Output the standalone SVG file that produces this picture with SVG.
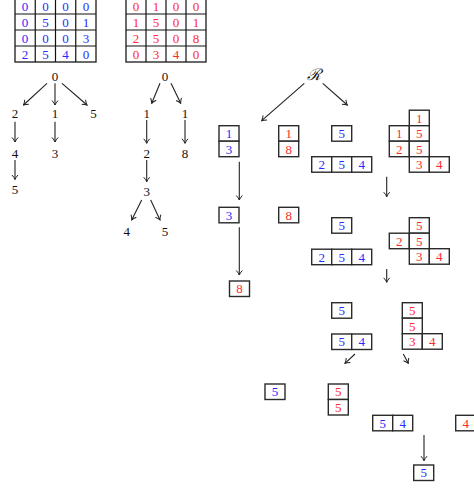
<svg xmlns="http://www.w3.org/2000/svg" width="474" height="489" viewBox="0 0 474 489">
<defs>
<marker id="ah" viewBox="-5 -4 6 8" markerWidth="6" markerHeight="8" refX="0" refY="0" orient="auto" markerUnits="userSpaceOnUse">
<path d="M-4.5,-3 Q-2,-0.8 0,0 Q-2,0.8 -4.5,3" fill="none" stroke="#222" stroke-width="1"/>
</marker>
<style>
text{font-family:"Liberation Serif","Times New Roman",serif;font-size:13px;text-anchor:middle}
.b{fill:#2a2aff}
.r{fill:#ff2a2a}
.k{fill:#111}
.c{fill:#fff;stroke:#2a2a2a;stroke-width:1.4}
.e{stroke:#222;stroke-width:1.1;fill:none;marker-end:url(#ah)}
.g{stroke:#111;stroke-width:1.2;fill:none}
</style>
</defs>
<rect width="474" height="489" fill="#fff"/>

<g id="matrix1">
<rect x="15" y="-2" width="81" height="64" class="c"/>
<path class="g" d="M35.25,-2V62M55.5,-2V62M75.75,-2V62M15,14H96M15,30H96M15,46H96"/>
<text x="25" y="10.5" class="b">0</text><text x="45.4" y="10.5" class="b">0</text><text x="65.6" y="10.5" class="b">0</text><text x="85.9" y="10.5" class="b">0</text>
<text x="25" y="26.5" class="b">0</text><text x="45.4" y="26.5" class="b">5</text><text x="65.6" y="26.5" class="b">0</text><text x="85.9" y="26.5" class="b">1</text>
<text x="25" y="42.5" class="b">0</text><text x="45.4" y="42.5" class="b">0</text><text x="65.6" y="42.5" class="b">0</text><text x="85.9" y="42.5" class="b">3</text>
<text x="25" y="58.5" class="b">2</text><text x="45.4" y="58.5" class="b">5</text><text x="65.6" y="58.5" class="b">4</text><text x="85.9" y="58.5" class="b">0</text>
</g>

<g id="matrix2">
<rect x="126" y="-2" width="80" height="64" class="c"/>
<path class="g" d="M146,-2V62M166,-2V62M186,-2V62M126,14H206M126,30H206M126,46H206"/>
<text x="136" y="10.5" class="r">0</text><text x="156" y="10.5" class="r">1</text><text x="176" y="10.5" class="r">0</text><text x="196" y="10.5" class="r">0</text>
<text x="136" y="26.5" class="r">1</text><text x="156" y="26.5" class="r">5</text><text x="176" y="26.5" class="r">0</text><text x="196" y="26.5" class="r">1</text>
<text x="136" y="42.5" class="r">2</text><text x="156" y="42.5" class="r">5</text><text x="176" y="42.5" class="r">0</text><text x="196" y="42.5" class="r">8</text>
<text x="136" y="58.5" class="r">0</text><text x="156" y="58.5" class="r">3</text><text x="176" y="58.5" class="r">4</text><text x="196" y="58.5" class="r">0</text>
</g>

<g id="tree1">
<text x="55" y="80.5" class="k">0</text>
<text x="15" y="117.5" class="k">2</text>
<text x="55" y="117.5" class="k">1</text>
<text x="93.5" y="117.5" class="k">5</text>
<text x="15" y="157.5" class="k">4</text>
<text x="55" y="157.5" class="k">3</text>
<text x="15" y="194" class="k">5</text>
</g>

<g id="tree2">
<text x="165" y="80.5" class="k">0</text>
<text x="146.7" y="117.5" class="k">1</text>
<text x="185" y="117.5" class="k">1</text>
<text x="146.7" y="157.5" class="k">2</text>
<text x="185" y="157.5" class="k">8</text>
<text x="146.7" y="196" class="k">3</text>
<text x="126.7" y="236" class="k">4</text>
<text x="165" y="236" class="k">5</text>
</g>

<g id="root"><text x="313.5" y="79.5" class="k" style="font-family:'DejaVu Serif',serif;font-style:italic;font-size:16px">ℛ</text></g>

<g id="box13"><rect x="219" y="125.7" width="20" height="15.5" class="c"/><rect x="219" y="141.2" width="20" height="15.5" class="c"/><text x="229" y="138" class="b">1</text><text x="229" y="153.5" class="b">3</text></g>
<g id="box18"><rect x="278.7" y="125.7" width="20" height="15.5" class="c"/><rect x="278.7" y="141.2" width="20" height="15.5" class="c"/><text x="288.7" y="138" class="r">1</text><text x="288.7" y="153.5" class="r">8</text></g>
<g id="box5a"><rect x="331.7" y="125.7" width="20" height="15.5" class="c"/><text x="341.7" y="138" class="b">5</text></g>
<g id="row254a"><rect x="311.7" y="156.7" width="20" height="15.5" class="c"/><rect x="331.7" y="156.7" width="20" height="15.5" class="c"/><rect x="351.7" y="156.7" width="20" height="15.5" class="c"/><text x="321.7" y="169" class="b">2</text><text x="341.7" y="169" class="b">5</text><text x="361.7" y="169" class="b">4</text></g>
<g id="shape1">
<rect x="409.3" y="110.2" width="20" height="15.5" class="c"/>
<rect x="389.3" y="125.7" width="20" height="15.5" class="c"/><rect x="409.3" y="125.7" width="20" height="15.5" class="c"/>
<rect x="389.3" y="141.2" width="20" height="15.5" class="c"/><rect x="409.3" y="141.2" width="20" height="15.5" class="c"/>
<rect x="409.3" y="156.7" width="20" height="15.5" class="c"/><rect x="429.3" y="156.7" width="20" height="15.5" class="c"/>
<text x="419.3" y="122.5" class="r">1</text>
<text x="399.3" y="138" class="r">1</text><text x="419.3" y="138" class="r">5</text>
<text x="399.3" y="153.5" class="r">2</text><text x="419.3" y="153.5" class="r">5</text>
<text x="419.3" y="169" class="r">3</text><text x="439.3" y="169" class="r">4</text>
</g>

<g id="box3"><rect x="219" y="207.3" width="20" height="15.5" class="c"/><text x="229" y="219.6" class="b">3</text></g>
<g id="box8a"><rect x="278.7" y="207.3" width="20" height="15.5" class="c"/><text x="288.7" y="219.6" class="r">8</text></g>
<g id="box8b"><rect x="229.5" y="281" width="20" height="15.5" class="c"/><text x="239.5" y="293.3" class="r">8</text></g>

<g id="box5b"><rect x="331.7" y="217.7" width="20" height="15.5" class="c"/><text x="341.7" y="230" class="b">5</text></g>
<g id="row254b"><rect x="311.7" y="249.2" width="20" height="15.5" class="c"/><rect x="331.7" y="249.2" width="20" height="15.5" class="c"/><rect x="351.7" y="249.2" width="20" height="15.5" class="c"/><text x="321.7" y="261.5" class="b">2</text><text x="341.7" y="261.5" class="b">5</text><text x="361.7" y="261.5" class="b">4</text></g>
<g id="shape2">
<rect x="409.3" y="217.7" width="20" height="15.5" class="c"/>
<rect x="389.3" y="233.2" width="20" height="15.5" class="c"/><rect x="409.3" y="233.2" width="20" height="15.5" class="c"/>
<rect x="409.3" y="248.7" width="20" height="15.5" class="c"/><rect x="429.3" y="248.7" width="20" height="15.5" class="c"/>
<text x="419.3" y="230" class="r">5</text>
<text x="399.3" y="245.5" class="r">2</text><text x="419.3" y="245.5" class="r">5</text>
<text x="419.3" y="261" class="r">3</text><text x="439.3" y="261" class="r">4</text>
</g>

<g id="box5c"><rect x="331.7" y="302.7" width="20" height="15.5" class="c"/><text x="341.7" y="315" class="b">5</text></g>
<g id="row54a"><rect x="331.7" y="334" width="20" height="15.5" class="c"/><rect x="351.7" y="334" width="20" height="15.5" class="c"/><text x="341.7" y="346.3" class="b">5</text><text x="361.7" y="346.3" class="b">4</text></g>
<g id="shape3">
<rect x="402.3" y="302.7" width="20" height="15.5" class="c"/>
<rect x="402.3" y="318.2" width="20" height="15.5" class="c"/>
<rect x="402.3" y="333.7" width="20" height="15.5" class="c"/><rect x="422.3" y="333.7" width="20" height="15.5" class="c"/>
<text x="412.3" y="315" class="r">5</text>
<text x="412.3" y="330.5" class="r">5</text>
<text x="412.3" y="346" class="r">3</text><text x="432.3" y="346" class="r">4</text>
</g>

<g id="box5d"><rect x="265" y="384" width="20" height="15.5" class="c"/><text x="275" y="396.3" class="b">5</text></g>
<g id="box55"><rect x="328.3" y="384" width="20" height="15.5" class="c"/><rect x="328.3" y="399.5" width="20" height="15.5" class="c"/><text x="338.3" y="396.3" class="r">5</text><text x="338.3" y="411.8" class="r">5</text></g>
<g id="row54b"><rect x="372.7" y="415.3" width="20" height="15.5" class="c"/><rect x="392.7" y="415.3" width="20" height="15.5" class="c"/><text x="382.7" y="427.6" class="b">5</text><text x="402.7" y="427.6" class="b">4</text></g>
<g id="box4"><rect x="455.7" y="415.3" width="20" height="15.5" class="c"/><text x="465.7" y="427.6" class="r">4</text></g>
<g id="box5e"><rect x="413.7" y="465" width="20" height="15.5" class="c"/><text x="423.7" y="477.3" class="b">5</text></g>

<g id="connectors">
<path class="e" d="M47,83.3L23.5,105"/>
<path class="e" d="M55,83.3V105"/>
<path class="e" d="M62,83.3L87,105"/>
<path class="e" d="M15,121.7V142"/>
<path class="e" d="M55,121.7V142"/>
<path class="e" d="M15,160V179.5"/>
<path class="e" d="M160,83.3L151.7,103.3"/>
<path class="e" d="M171,83.3L180.7,103.3"/>
<path class="e" d="M146.7,120V143.3"/>
<path class="e" d="M185,120V143.3"/>
<path class="e" d="M146.7,160V181.7"/>
<path class="e" d="M141.7,200L131.7,220"/>
<path class="e" d="M150.7,200L160,220"/>
<path class="e" d="M304.3,83.3L261.7,120.7"/>
<path class="e" d="M322.7,83.3L347.3,105"/>
<path class="e" d="M239.3,161.7V200"/>
<path class="e" d="M239.3,227.3V275"/>
<path class="e" d="M386.7,176.7V196.7"/>
<path class="e" d="M386.7,269V282.3"/>
<path class="e" d="M355,354L345,363.3"/>
<path class="e" d="M403.3,354L408.3,363.3"/>
<path class="e" d="M424,435V460.7"/>
</g>
</svg>
